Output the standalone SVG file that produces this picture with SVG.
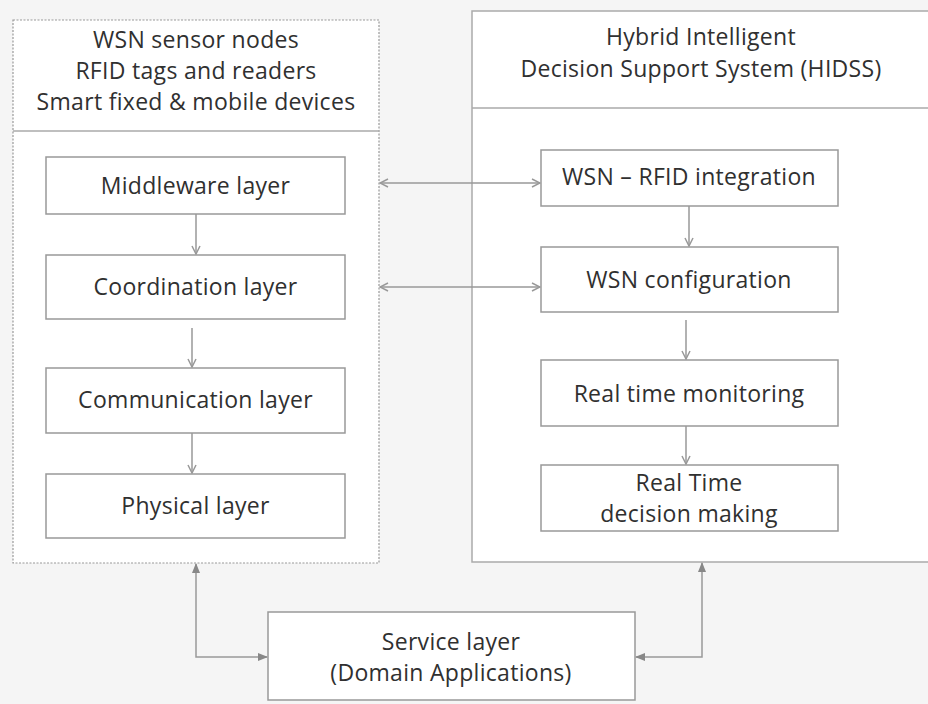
<svg xmlns="http://www.w3.org/2000/svg" width="928" height="704" viewBox="0 0 928 704">
<style>
  text { font-family: "Open Sans", "Liberation Sans", sans-serif; font-size: 23px; letter-spacing: 0.3px; fill: #303030; text-anchor: middle; }
  .box { fill: #fff; stroke: #999; stroke-width: 1.5; }
  .outer { fill: #fff; stroke: #aaa; stroke-width: 1.5; }
  .dotted { fill: #fff; stroke: #999; stroke-width: 1.2; stroke-dasharray: 2 1.5; }
  .div { stroke: #aaa; stroke-width: 1.5; fill: none; }
  .conn { stroke: #999; stroke-width: 1.5; fill: none; }
</style>
<defs>
  <marker id="open" viewBox="0 0 10 10" refX="9" refY="5" markerWidth="10" markerHeight="10" markerUnits="userSpaceOnUse" orient="auto-start-reverse">
    <path d="M1,1 L9,5 L1,9" fill="none" stroke="#999" stroke-width="1.5"/>
  </marker>
  <marker id="fill" viewBox="0 0 10 10" refX="9" refY="5" markerWidth="10" markerHeight="10" markerUnits="userSpaceOnUse" orient="auto-start-reverse">
    <path d="M0,1 L10,5 L0,9 Z" fill="#888"/>
  </marker>
</defs>
<rect x="0" y="0" width="928" height="704" fill="#f5f5f5"/>

<g id="left-container">
  <rect class="dotted" x="13" y="20" width="366" height="543"/>
  <line class="div" x1="13" y1="131" x2="379" y2="131"/>
  <text x="196" y="48">WSN sensor nodes</text>
  <text x="196" y="79">RFID tags and readers</text>
  <text x="196" y="110">Smart fixed &amp; mobile devices</text>
</g>

<g id="right-container">
  <rect class="outer" x="472" y="11" width="470" height="551"/>
  <line class="div" x1="472" y1="108" x2="928" y2="108"/>
  <text x="701" y="45">Hybrid Intelligent</text>
  <text x="701" y="77">Decision Support System (HIDSS)</text>
</g>

<g id="middleware"><rect class="box" x="46" y="157" width="299" height="57"/><text x="195.5" y="194">Middleware layer</text></g>
<g id="coordination"><rect class="box" x="46" y="255" width="299" height="64"/><text x="195.5" y="295">Coordination layer</text></g>
<g id="communication"><rect class="box" x="46" y="368" width="299" height="65"/><text x="195.5" y="408">Communication layer</text></g>
<g id="physical"><rect class="box" x="46" y="474" width="299" height="64"/><text x="195.5" y="514">Physical layer</text></g>

<g id="integration"><rect class="box" x="541" y="150" width="297" height="56"/><text x="689" y="185">WSN – RFID integration</text></g>
<g id="configuration"><rect class="box" x="541" y="247" width="297" height="65"/><text x="689" y="288">WSN configuration</text></g>
<g id="monitoring"><rect class="box" x="541" y="360" width="297" height="66"/><text x="689" y="402">Real time monitoring</text></g>
<g id="decision"><rect class="box" x="541" y="465" width="297" height="66"/><text x="689" y="491">Real Time</text><text x="689" y="522">decision making</text></g>

<g id="service"><rect class="box" x="268" y="612" width="367" height="88"/><text x="451" y="650">Service layer</text><text x="451" y="681">(Domain Applications)</text></g>

<g id="connectors">
  <line class="conn" x1="196" y1="214" x2="196" y2="254" marker-end="url(#open)"/>
  <line class="conn" x1="192" y1="328" x2="192" y2="367" marker-end="url(#open)"/>
  <line class="conn" x1="192" y1="433" x2="192" y2="473" marker-end="url(#open)"/>
  <line class="conn" x1="689" y1="206" x2="689" y2="246" marker-end="url(#open)"/>
  <line class="conn" x1="686" y1="320" x2="686" y2="359" marker-end="url(#open)"/>
  <line class="conn" x1="686" y1="426" x2="686" y2="464" marker-end="url(#open)"/>
  <line class="conn" x1="380" y1="183" x2="540" y2="183" marker-start="url(#open)" marker-end="url(#open)"/>
  <line class="conn" x1="380" y1="287" x2="540" y2="287" marker-start="url(#open)" marker-end="url(#open)"/>
  <polyline class="conn" points="196,564 196,657 267,657" marker-start="url(#fill)" marker-end="url(#fill)"/>
  <polyline class="conn" points="702,563 702,657 636,657" marker-start="url(#fill)" marker-end="url(#fill)"/>
</g>
</svg>
